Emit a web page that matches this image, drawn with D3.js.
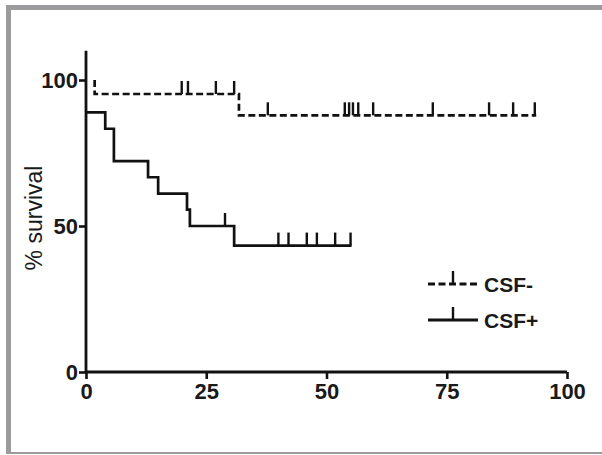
<!DOCTYPE html>
<html>
<head>
<meta charset="utf-8">
<script src="https://cdn.jsdelivr.net/npm/d3@7"></script>
<style>
  body { margin: 0; background: #fff; }
  svg { display: block; }
</style>
</head>
<body>
<div id="chart"></div>
<script>
// CSF- group (dashed): step times and survival levels
const negTimes = [1.8, 1.8, 31.8]
const negSurv = [100, 95.2, 87.9]
const negEnd = 93.6
const negCensor = [19.9, 21.2, 27.0, 30.8, 37.8, 53.8, 54.7, 55.5, 56.6, 59.7, 72.1, 83.8, 88.8, 93.3]

// CSF+ group (solid)
const posTimes = [0, 4.0, 5.8, 12.9, 15.0, 21.0, 21.6, 30.8]
const posSurv = [88.9, 83.3, 72.2, 66.7, 61.1, 55.6, 50.0, 43.3]
const posEnd = 55.2
const posCensor = [28.9, 40.0, 42.1, 45.9, 48.0, 51.8, 55.0]

const xTicks = [0, 25, 50, 75, 100]
const yTicks = [0, 50, 100]
const legendLabels = ["CSF-", "CSF+"]

const W = 602, H = 455
const svg = d3.select("#chart").append("svg").attr("width", W).attr("height", H)

// 灰色边框
svg.append("rect").attr("x", 6).attr("y", 5).attr("width", 5).attr("height", 449).attr("fill", "#9b9b9d")
svg.append("rect").attr("x", 6).attr("y", 5).attr("width", W - 6).attr("height", 5).attr("fill", "#9b9b9d")
svg.append("rect").attr("x", 6).attr("y", 452).attr("width", W - 6).attr("height", 2).attr("fill", "#9b9b9d")

const x = d3.scaleLinear().domain([0, 100]).range([86, 567])
const y = d3.scaleLinear().domain([0, 100]).range([372, 80])

const font = "'Liberation Sans', Arial, Helvetica, sans-serif"

// 坐标轴
const xAxis = svg.append("g")
  .attr("transform", `translate(0,${y(0)})`)
  .call(d3.axisBottom(x).tickValues(xTicks).tickSize(7).tickSizeOuter(0).tickPadding(4))
const yAxis = svg.append("g")
  .attr("transform", `translate(${x(0)},0)`)
  .call(d3.axisLeft(y).tickValues(yTicks).tickSize(7).tickSizeOuter(0).tickPadding(1))

;[xAxis, yAxis].forEach(g => {
  g.select(".domain").remove()
  g.selectAll(".tick line").attr("stroke", "#111").attr("stroke-width", 2.6)
  g.selectAll(".tick text")
    .attr("fill", "#1a1a1a")
    .attr("font-family", font)
    .attr("font-weight", "bold")
    .attr("font-size", 22)
})
yAxis.selectAll(".tick text").attr("dy", "0.36em")

svg.append("line")
  .attr("x1", x(0)).attr("x2", x(100))
  .attr("y1", y(0)).attr("y2", y(0))
  .attr("stroke", "#111").attr("stroke-width", 2.8)
svg.append("line")
  .attr("x1", x(0)).attr("x2", x(0))
  .attr("y1", y(0) + 1).attr("y2", y(110))
  .attr("stroke", "#111").attr("stroke-width", 2.8)

svg.append("text")
  .text("% survival")
  .attr("transform", `translate(42,${(y(0) + y(100)) / 2 - 8}) rotate(-90)`)
  .attr("text-anchor", "middle")
  .attr("font-family", font)
  .attr("font-size", 23)
  .attr("fill", "#1a1a1a")

// KM 阶梯曲线
function stepPoints(times, surv, end) {
  const pts = []
  times.forEach((t, i) => {
    if (i > 0) pts.push([t, surv[i - 1]])
    pts.push([t, surv[i]])
  })
  pts.push([end, surv[surv.length - 1]])
  return pts
}
function levelAt(times, surv, t) {
  let v = surv[0]
  times.forEach((tt, i) => { if (tt <= t) v = surv[i] })
  return v
}
const line = d3.line().x(d => x(d[0])).y(d => y(d[1]))

const groups = [
  { times: negTimes, surv: negSurv, end: negEnd, censor: negCensor, dash: "7,3.5" },
  { times: posTimes, surv: posSurv, end: posEnd, censor: posCensor, dash: null },
]
const tickH = 13

groups.forEach(g => {
  svg.append("path")
    .attr("d", line(stepPoints(g.times, g.surv, g.end)))
    .attr("fill", "none")
    .attr("stroke", "#111")
    .attr("stroke-width", 2.7)
    .attr("stroke-dasharray", g.dash)
  svg.selectAll(null)
    .data(g.censor)
    .enter()
    .append("line")
    .attr("x1", d => x(d)).attr("x2", d => x(d))
    .attr("y1", d => y(levelAt(g.times, g.surv, d)))
    .attr("y2", d => y(levelAt(g.times, g.surv, d)) - tickH)
    .attr("stroke", "#111")
    .attr("stroke-width", 2.4)
})

// 图例
const legend = svg.selectAll(".legend")
  .data(legendLabels)
  .enter()
  .append("g")
  .attr("class", "legend")
  .attr("transform", (d, i) => `translate(428,${284 + i * 36})`)
legend.append("line")
  .attr("x1", 0).attr("x2", 50).attr("y1", 0).attr("y2", 0)
  .attr("stroke", "#111").attr("stroke-width", 2.8)
  .attr("stroke-dasharray", (d, i) => groups[i].dash)
legend.append("line")
  .attr("x1", 25).attr("x2", 25).attr("y1", 0).attr("y2", -tickH)
  .attr("stroke", "#111").attr("stroke-width", 2.4)
legend.append("text")
  .text(d => d)
  .attr("x", 56).attr("y", 0)
  .attr("dy", "0.36em")
  .attr("font-family", font)
  .attr("font-weight", "bold")
  .attr("font-size", 21)
  .attr("fill", "#1a1a1a")
</script>
</body>
</html>
